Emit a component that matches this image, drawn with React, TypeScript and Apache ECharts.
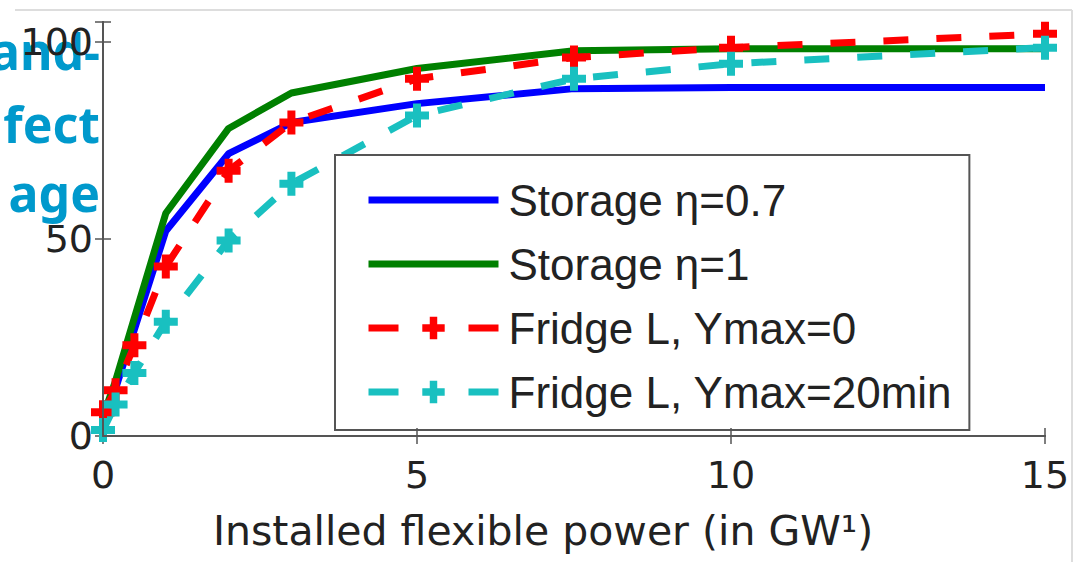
import React, { useEffect, useRef } from 'react';
import * as echarts from 'echarts';

// ---- data ----
const xValues = [0, 0.2, 0.5, 1, 2, 3, 5, 7.5, 10, 15];
const storageEta07 = [5, 12, 27, 52, 71.6, 79.5, 84.3, 88.1, 88.4, 88.4];
const storageEta1 = [5, 14, 30, 56.5, 78, 87, 93.2, 97.7, 98.2, 98.2];
const fridgeYmax0 = [6, 11.6, 23, 43, 67.3, 79.5, 90.6, 96, 98.5, 102];
const fridgeYmax20 = [1.5, 8, 16, 29, 49.6, 64, 81.3, 90.6, 94.4, 98.5];
const seriesNames = ['Storage η=0.7', 'Storage η=1', 'Fridge L, Ymax=0', 'Fridge L, Ymax=20min'];
const yTickValues = [0, 50, 100];
const xAxisTitle = 'Installed flexible power (in GW¹)';
const overlayWords = ['and-', 'fect', 'age'];

const PLUS = 'path://M-1,-3L1,-3L1,-1L3,-1L3,1L1,1L1,3L-1,3L-1,1L-3,1L-3,-1L-1,-1Z';
const LINE_ICON = 'path://M0,0L130,0L130,7L0,7Z';
const LEGEND_FONT = "'Liberation Sans', Arial, sans-serif";
const AXIS_FONT = "'DejaVu Sans', sans-serif";

const pairs = (ys: number[]) => xValues.map((x, i) => [x, ys[i]]);

export default function App() {
  const ref = useRef<HTMLDivElement>(null);
  useEffect(() => {
    if (!ref.current) return;
    const chart = echarts.init(ref.current, undefined, { renderer: 'svg' });
    const axisLine = { show: true, lineStyle: { color: '#555', width: 2 } };
    const tick = { show: true, inside: true, length: 8, lineStyle: { color: '#555', width: 1.5 } };
    chart.setOption({
      animation: false,
      backgroundColor: '#fff',
      grid: { left: 103, right: 31, top: 22, bottom: 126, show: false, outerBoundsMode: 'none' },
      xAxis: [
        {
          type: 'value', min: 0, max: 15, interval: 5, position: 'bottom',
          axisLine, axisTick: tick, splitLine: { show: false },
          axisLabel: { fontSize: 38, color: '#222', fontFamily: AXIS_FONT, margin: 20 },
          name: xAxisTitle, nameLocation: 'middle', nameGap: 74,
          nameTextStyle: { fontSize: 41, color: '#222', fontFamily: AXIS_FONT, padding: [0, 62, 0, 0] },
          z: 10,
        },
        {
          type: 'value', min: 0, max: 15, interval: 5, position: 'top',
          axisLine, axisTick: tick, splitLine: { show: false }, axisLabel: { show: false },
        },
      ],
      yAxis: [
        {
          type: 'value', min: 0, max: 105, interval: 50, position: 'left',
          axisLine, axisTick: tick, splitLine: { show: false },
          axisLabel: {
            fontSize: 38, color: '#222', fontFamily: AXIS_FONT, margin: 10,
            formatter: (v: number) => (yTickValues.includes(v) ? String(v) : ''),
          },
          z: 10,
        },
        {
          type: 'value', min: 0, max: 105, interval: 50, position: 'right',
          axisLine, axisTick: tick, splitLine: { show: false }, axisLabel: { show: false },
        },
      ],
      legend: {
        orient: 'vertical',
        left: 335, top: 155,
        padding: [23, 17, 16, 30],
        itemWidth: 130, itemHeight: 28, itemGap: 20,
        symbolKeepAspect: true,
        backgroundColor: '#fff',
        borderColor: '#555', borderWidth: 2, borderRadius: 0,
        textStyle: { fontSize: 44, lineHeight: 44, color: '#222', fontFamily: LEGEND_FONT, padding: [0, 0, 0, 5] },
        data: [
          { name: seriesNames[0], icon: LINE_ICON },
          { name: seriesNames[1], icon: LINE_ICON },
          { name: seriesNames[2], lineStyle: { type: [30, 70], width: 7 } },
          { name: seriesNames[3], lineStyle: { type: [30, 70], width: 7 } },
        ],
        selectedMode: false,
      },
      graphic: [
        { type: 'line', shape: { x1: 15, y1: 10, x2: 1072, y2: 10 }, style: { stroke: '#ddd', lineWidth: 2 } },
        { type: 'line', shape: { x1: 1072, y1: 10, x2: 1072, y2: 562 }, style: { stroke: '#ddd', lineWidth: 2 } },
        ...overlayWords.map((w, i) => ({
          type: 'text', x: 100, y: [51, 124, 193][i], z: 1,
          style: {
            text: w, fill: '#0099CC', font: "bold 50px 'Noto Sans', sans-serif",
            textAlign: 'right', textVerticalAlign: 'middle',
          },
        })),
      ],
      series: [
        {
          name: seriesNames[0], type: 'line', data: pairs(storageEta07), symbol: 'none',
          lineStyle: { color: '#0000FF', width: 7 }, itemStyle: { color: '#0000FF' },
        },
        {
          name: seriesNames[1], type: 'line', data: pairs(storageEta1), symbol: 'none',
          lineStyle: { color: '#008000', width: 7 }, itemStyle: { color: '#008000' },
        },
        {
          name: seriesNames[2], type: 'line', data: pairs(fridgeYmax0), symbol: PLUS, symbolSize: 24,
          lineStyle: { color: '#FF0000', width: 7, type: [25, 28] }, itemStyle: { color: '#FF0000' },
        },
        {
          name: seriesNames[3], type: 'line', data: pairs(fridgeYmax20), symbol: PLUS, symbolSize: 24,
          lineStyle: { color: '#19C0C0', width: 7, type: [25, 28] }, itemStyle: { color: '#19C0C0' },
        },
      ],
    });
    return () => chart.dispose();
  }, []);
  return <div ref={ref} style={{ position: 'fixed', left: 0, top: 0, width: 1076, height: 562 }} />;
}
